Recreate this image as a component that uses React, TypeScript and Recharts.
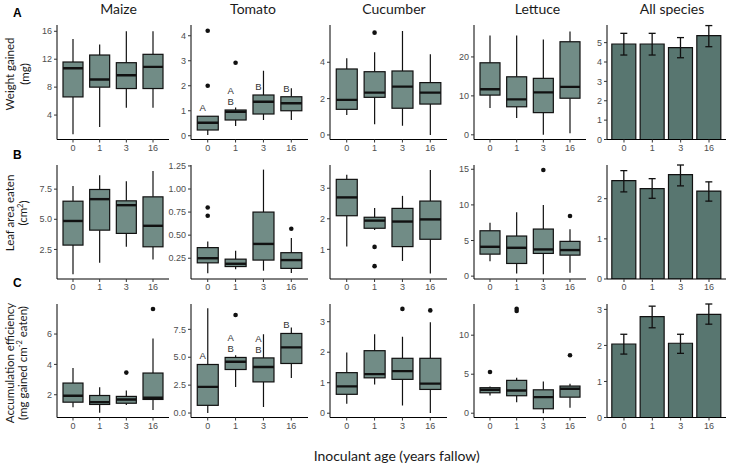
import { ComposedChart, Bar, Scatter, ErrorBar, XAxis, YAxis } from 'recharts'

const ages = ['0', '1', '3', '16']

// five-number summaries per age: [min, q1, median, q3, max]
const maizeWeight = [[1.25, 6.6, 10.7, 11.6, 14.9], [2.3, 8.0, 9.1, 12.6, 14.1], [5.05, 7.8, 9.7, 11.5, 16.0], [5.05, 7.8, 10.9, 12.7, 16.0]]
const tomatoWeight = [[0.03, 0.23, 0.52, 0.78, 0.79], [0.39, 0.63, 0.96, 1.03, 1.13], [0.63, 0.87, 1.36, 1.63, 2.6], [0.63, 1.0, 1.3, 1.56, 1.9]]
const cucumberWeight = [[1.1, 1.41, 1.93, 3.63, 4.22], [0.59, 2.07, 2.33, 3.48, 4.55], [0.5, 1.47, 2.66, 3.52, 5.72], [0, 1.7, 2.33, 2.88, 4.44]]
const lettuceWeight = [[6.9, 10.2, 11.7, 18.5, 25.5], [4.3, 7.2, 9.1, 14.9, 25.5], [0, 5.7, 10.9, 14.5, 24.5], [0.4, 9.4, 12.3, 23.9, 26.5]]

const maizeLeaf = [[0.45, 2.86, 4.86, 6.5, 7.75], [1.4, 4.1, 6.67, 7.47, 8.66], [2.72, 3.83, 6.17, 6.53, 8.16], [1.67, 2.72, 4.46, 6.86, 9.01]]
const tomatoLeaf = [[0.087, 0.2, 0.25, 0.365, 0.43], [0.13, 0.16, 0.19, 0.24, 0.33], [0.115, 0.23, 0.405, 0.75, 1.21], [0.09, 0.14, 0.23, 0.31, 0.47]]
const cucumberLeaf = [[1.09, 2.1, 2.7, 3.29, 3.44], [1.63, 1.69, 1.94, 2.05, 2.35], [0.62, 1.09, 1.91, 2.34, 2.75], [0.21, 1.33, 1.98, 2.58, 3.6]]
const lettuceLeaf = [[2.1, 3.09, 4.12, 6.37, 7.5], [0.38, 1.78, 3.98, 5.63, 8.96], [0.28, 3.19, 3.75, 6.61, 9.99], [0.47, 2.95, 3.66, 4.88, 6.6]]

const maizeEff = [[1.18, 1.51, 1.93, 2.77, 3.76], [0.81, 1.36, 1.51, 1.95, 2.5], [1.33, 1.44, 1.69, 1.89, 2.28], [1.0, 1.69, 1.8, 3.43, 5.71]]
const tomatoEff = [[0, 0.69, 2.34, 4.35, 9.38], [2.34, 3.9, 4.6, 4.98, 5.18], [0.54, 2.79, 4.13, 4.94, 7.07], [3.15, 4.44, 5.88, 7.13, 7.67]]
const cucumberEff = [[0.31, 0.62, 0.88, 1.33, 1.99], [0.94, 1.16, 1.28, 2.05, 2.59], [0.25, 1.11, 1.38, 1.8, 2.51], [0.01, 0.78, 0.97, 1.8, 2.98]]
const lettuceEff = [[2.28, 2.62, 3.0, 3.27, 3.44], [1.42, 2.24, 2.92, 4.21, 4.56], [0, 0.57, 2.06, 3.0, 4.08], [0.69, 2.06, 3.14, 3.48, 3.78]]

// outliers per age
const noOut = [[], [], [], []]
const tomatoWeightOut = [[4.2, 2.0], [2.92], [], []]
const cucumberWeightOut = [[], [5.63], [], []]
const tomatoLeafOut = [[0.8, 0.71], [], [], [0.57]]
const cucumberLeafOut = [[], [1.08, 0.45], [], []]
const lettuceLeafOut = [[], [], [14.9], [8.44]]
const maizeEffOut = [[], [], [3.46], [7.65]]
const tomatoEffOut = [[], [8.78], [], []]
const cucumberEffOut = [[], [], [3.42], [3.37]]
const lettuceEffOut = [[5.28], [13.4, 13.1], [], [7.43]]

// significance letters (top to bottom)
const tomatoWeightLetters = [['A'], ['A', 'B'], ['B'], ['B']]
const tomatoEffLetters = [['A'], ['A', 'B'], ['A', 'B'], ['B']]

// all species: mean and error bar limits
const allWeightMean = [4.93, 4.93, 4.74, 5.36]
const allWeightLow = [4.36, 4.36, 4.22, 4.79]
const allWeightHigh = [5.48, 5.48, 5.26, 5.88]
const allLeafMean = [2.45, 2.25, 2.6, 2.19]
const allLeafLow = [2.17, 2.01, 2.32, 1.94]
const allLeafHigh = [2.7, 2.5, 2.84, 2.42]
const allEffMean = [2.04, 2.8, 2.06, 2.86]
const allEffLow = [1.76, 2.49, 1.78, 2.59]
const allEffHigh = [2.31, 3.09, 2.31, 3.15]

const INK = '#111'
const BOX_FILL = '#718c86'
const BAR_FILL = '#587670'
const TICK_FONT = '"Liberation Sans", Arial, sans-serif'
const TITLE_FONT = 'Lato, "Open Sans", sans-serif'

const AXW = 40
const MT = 6
const MR = 6
const AXH = 22

const cols = [
  { x: 57, w: 112 },
  { x: 191, w: 117 },
  { x: 330, w: 117 },
  { x: 474, w: 112 },
  { x: 607, w: 119 },
]
const rows = [
  { y: 25, h: 114.5 },
  { y: 165, h: 114 },
  { y: 304, h: 113.5 },
]

const tickStyle = { fontSize: 9, fill: '#4d4d4d', fontFamily: TICK_FONT }

const BoxShape = (props: any) => {
  const { x, y, width, height, payload } = props
  const [mn, q1, md, q3, mx] = payload.s
  const top = Math.min(y, y + height)
  const span = Math.abs(height)
  const py = (v: number) => (mx === mn ? top : top + (span * (mx - v)) / (mx - mn))
  const cx = x + width / 2
  const letters: string[] = payload.letters || []
  return (
    <g>
      <line x1={cx} x2={cx} y1={py(mx)} y2={py(q3)} stroke={INK} strokeWidth={1.2} />
      <line x1={cx} x2={cx} y1={py(q1)} y2={py(mn)} stroke={INK} strokeWidth={1.2} />
      <rect x={x} y={py(q3)} width={width} height={py(q1) - py(q3)} fill={BOX_FILL} stroke={INK} strokeWidth={1.2} />
      <line x1={x} x2={x + width} y1={py(md)} y2={py(md)} stroke={INK} strokeWidth={2.4} />
      {letters.map((l, i) => (
        <text key={i} x={cx - 5} y={py(q3) - 5 - (letters.length - 1 - i) * 11} textAnchor="middle"
          fontSize={9.5} fill="#333" fontFamily={TICK_FONT}>{l}</text>
      ))}
    </g>
  )
}

const dotShape = (key: string) => (p: any) =>
  p.payload == null || p.payload[key] == null || p.cy == null || isNaN(p.cy)
    ? <g />
    : <circle cx={p.cx} cy={p.cy} r={2.3} fill={INK} />

function axes(w: number, domain: number[], ticks: number[], fmt?: (v: number) => string) {
  const pad = w * 0.0238
  return [
    <XAxis key="x" dataKey="age" padding={{ left: pad, right: pad }} height={AXH} interval={0}
      tick={tickStyle} tickSize={3} tickMargin={2} tickLine={{ stroke: '#333' }} axisLine={{ stroke: '#000', strokeWidth: 1 }} />,
    <YAxis key="y" type="number" width={AXW} domain={domain} ticks={ticks} allowDataOverflow
      tickFormatter={fmt} tick={tickStyle} tickSize={3} tickMargin={2} tickLine={{ stroke: '#333' }}
      axisLine={{ stroke: '#000', strokeWidth: 1 }} />,
  ]
}

function BoxPanel({ c, r, stats, outliers, letters, domain, ticks, fmt }: any) {
  const col = cols[c]
  const row = rows[r]
  const data = ages.map((age, i) => ({
    age,
    range: [stats[i][0], stats[i][4]],
    s: stats[i],
    o1: outliers[i][0] ?? null,
    o2: outliers[i][1] ?? null,
    letters: letters ? letters[i] : [],
  }))
  return (
    <div style={{ position: 'absolute', left: col.x - AXW, top: row.y - MT }}>
      <ComposedChart width={col.w + AXW + MR} height={row.h + MT + AXH} data={data}
        margin={{ top: MT, right: MR, left: 0, bottom: 0 }} barCategoryGap="12.5%">
        {axes(col.w, domain, ticks, fmt)}
        <Bar dataKey="range" shape={BoxShape} isAnimationActive={false} />
        <Scatter dataKey="o1" shape={dotShape('o1')} isAnimationActive={false} />
        <Scatter dataKey="o2" shape={dotShape('o2')} isAnimationActive={false} />
      </ComposedChart>
    </div>
  )
}

function BarPanel({ r, mean, low, high, domain, ticks }: any) {
  const col = cols[4]
  const row = rows[r]
  const data = ages.map((age, i) => ({ age, mean: mean[i], err: [mean[i] - low[i], high[i] - mean[i]] }))
  return (
    <div style={{ position: 'absolute', left: col.x - AXW, top: row.y - MT }}>
      <ComposedChart width={col.w + AXW + MR} height={row.h + MT + AXH} data={data}
        margin={{ top: MT, right: MR, left: 0, bottom: 0 }} barCategoryGap="7%">
        {axes(col.w, domain, ticks)}
        <Bar dataKey="mean" fill={BAR_FILL} stroke={INK} strokeWidth={1.2} isAnimationActive={false}>
          <ErrorBar dataKey="err" width={3.5} stroke={INK} strokeWidth={1.3} direction="y" />
        </Bar>
      </ComposedChart>
    </div>
  )
}

const f1 = (v: number) => v.toFixed(1)
const f2 = (v: number) => v.toFixed(2)

const titles = [
  { t: 'Maize', x: 118.5 },
  { t: 'Tomato', x: 253 },
  { t: 'Cucumber', x: 394 },
  { t: 'Lettuce', x: 537.5 },
  { t: 'All species', x: 672 },
]

export default function App() {
  return (
    <div style={{ position: 'absolute', left: 0, top: 0, width: 732, height: 466, background: '#fff' }}>
      <BoxPanel c={0} r={0} stats={maizeWeight} outliers={noOut} domain={[0.5, 16.9]} ticks={[4, 8, 12, 16]} />
      <BoxPanel c={1} r={0} stats={tomatoWeight} outliers={tomatoWeightOut} letters={tomatoWeightLetters} domain={[-0.15, 4.43]} ticks={[0, 1, 2, 3, 4]} />
      <BoxPanel c={2} r={0} stats={cucumberWeight} outliers={cucumberWeightOut} domain={[-0.25, 6.05]} ticks={[0, 2, 4]} />
      <BoxPanel c={3} r={0} stats={lettuceWeight} outliers={noOut} domain={[-1.2, 28.2]} ticks={[0, 10, 20]} />
      <BarPanel r={0} mean={allWeightMean} low={allWeightLow} high={allWeightHigh} domain={[0, 5.91]} ticks={[0, 1, 2, 3, 4, 5]} />

      <BoxPanel c={0} r={1} stats={maizeLeaf} outliers={noOut} domain={[0.05, 9.5]} ticks={[2.5, 5, 7.5]} fmt={f1} />
      <BoxPanel c={1} r={1} stats={tomatoLeaf} outliers={tomatoLeafOut} domain={[0.025, 1.26]} ticks={[0.25, 0.5, 0.75, 1, 1.25]} fmt={f2} />
      <BoxPanel c={2} r={1} stats={cucumberLeaf} outliers={cucumberLeafOut} domain={[0.03, 3.76]} ticks={[1, 2, 3]} />
      <BoxPanel c={3} r={1} stats={lettuceLeaf} outliers={lettuceLeafOut} domain={[-0.4, 15.6]} ticks={[0, 5, 10, 15]} />
      <BarPanel r={1} mean={allLeafMean} low={allLeafLow} high={allLeafHigh} domain={[0, 2.84]} ticks={[0, 1, 2]} />

      <BoxPanel c={0} r={2} stats={maizeEff} outliers={maizeEffOut} domain={[0.5, 7.98]} ticks={[2, 4, 6]} />
      <BoxPanel c={1} r={2} stats={tomatoEff} outliers={tomatoEffOut} letters={tomatoEffLetters} domain={[-0.4, 9.77]} ticks={[0, 2.5, 5, 7.5]} fmt={f1} />
      <BoxPanel c={2} r={2} stats={cucumberEff} outliers={cucumberEffOut} domain={[-0.14, 3.58]} ticks={[0, 1, 2, 3]} />
      <BoxPanel c={3} r={2} stats={lettuceEff} outliers={lettuceEffOut} domain={[-0.55, 14]} ticks={[0, 5, 10]} />
      <BarPanel r={2} mean={allEffMean} low={allEffLow} high={allEffHigh} domain={[0, 3.15]} ticks={[0, 1, 2, 3]} />

      <svg width={732} height={466} style={{ position: 'absolute', left: 0, top: 0, pointerEvents: 'none' }}>
        {titles.map((t) => (
          <text key={t.t} x={t.x} y={13.5} textAnchor="middle" fontSize={14} fill="#1a1a1a" fontFamily={TITLE_FONT}>{t.t}</text>
        ))}
        <text x={13} y={17} fontSize={12} fontWeight="bold" fill="#000" fontFamily={TICK_FONT}>A</text>
        <text x={13} y={158.5} fontSize={12} fontWeight="bold" fill="#000" fontFamily={TICK_FONT}>B</text>
        <text x={13} y={287} fontSize={12} fontWeight="bold" fill="#000" fontFamily={TICK_FONT}>C</text>

        <g fontFamily={TITLE_FONT} fontSize={11.5} fill="#1a1a1a" textAnchor="middle" dominantBaseline="central">
          <text transform="translate(9,74) rotate(-90)">Weight gained</text>
          <text transform="translate(24,74) rotate(-90)">(mg)</text>
          <text transform="translate(9,213) rotate(-90)">Leaf area eaten</text>
          <text transform="translate(22.5,213) rotate(-90)">(cm<tspan dy={-3} fontSize={7.5}>2</tspan><tspan dy={3}>)</tspan></text>
          <text transform="translate(9,363) rotate(-90)">Accumulation efficiency</text>
          <text transform="translate(22,363) rotate(-90)">(mg gained cm<tspan dy={-3} fontSize={7.5}>-2</tspan><tspan dy={3}> eaten)</tspan></text>
        </g>
        <text x={396.7} y={461} textAnchor="middle" fontSize={14} fill="#1a1a1a" fontFamily={TITLE_FONT}>Inoculant age (years fallow)</text>
      </svg>
    </div>
  )
}
